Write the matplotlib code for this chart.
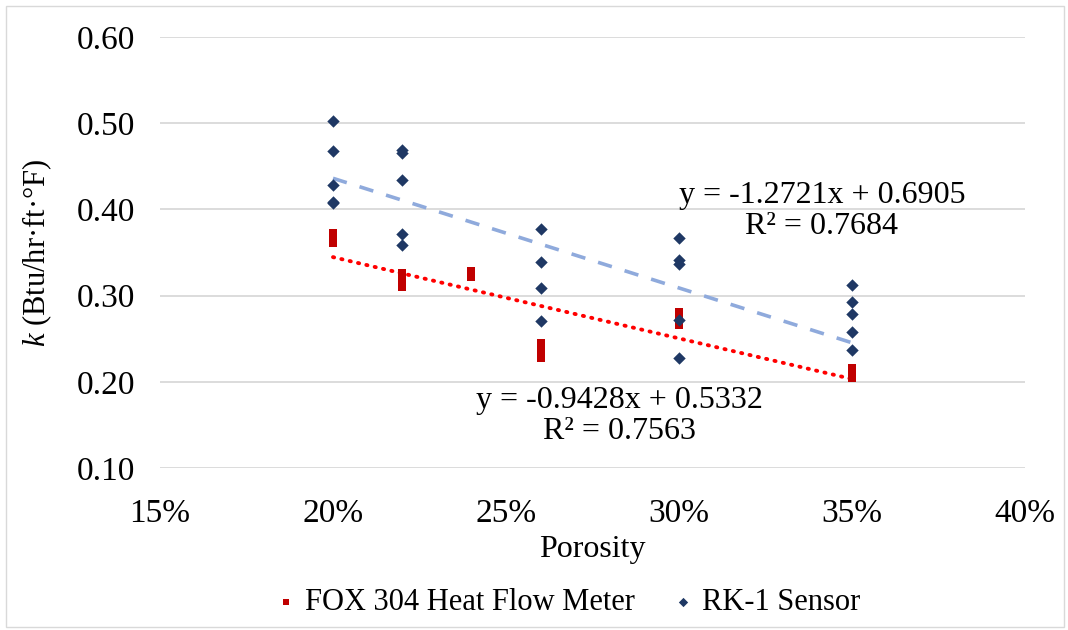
import matplotlib.pyplot as plt
from matplotlib.patches import Rectangle
from matplotlib.ticker import FuncFormatter
import numpy as np

# FOX 304 heat flow meter measurements
fox_porosity = [0.20, 0.20, 0.20, 0.22, 0.22, 0.22, 0.24, 0.24, 0.26, 0.26, 0.26, 0.30, 0.30, 0.30, 0.35, 0.35, 0.35]
fox_k = [0.373, 0.367, 0.361, 0.326, 0.318, 0.310, 0.328, 0.322, 0.245, 0.236, 0.228, 0.281, 0.274, 0.266, 0.216, 0.210, 0.204]

# RK-1 sensor measurements
rk_porosity = [0.20, 0.20, 0.20, 0.20, 0.20,
               0.22, 0.22, 0.22, 0.22, 0.22,
               0.26, 0.26, 0.26, 0.26,
               0.30, 0.30, 0.30, 0.30, 0.30,
               0.35, 0.35, 0.35, 0.35, 0.35]
rk_k = [0.502, 0.468, 0.428, 0.409, 0.407,
        0.469, 0.466, 0.434, 0.371, 0.359,
        0.377, 0.339, 0.309, 0.271,
        0.367, 0.341, 0.337, 0.272, 0.228,
        0.312, 0.292, 0.279, 0.258, 0.237]

# trendline coefficients as printed on the chart
fox_fit = (-0.9428, 0.5332, 0.7563)
rk_fit = (-1.2721, 0.6905, 0.7684)

plt.rcParams['font.family'] = ['Liberation Serif', 'DejaVu Serif']
plt.rcParams['mathtext.fontset'] = 'custom'
plt.rcParams['mathtext.it'] = 'Liberation Serif:italic'
plt.rcParams['mathtext.rm'] = 'Liberation Serif'

fig = plt.figure(figsize=(10.68, 6.30), dpi=100)
ax = fig.add_axes([160 / 1068, 1 - 468 / 630, 865 / 1068, 431 / 630])

fig.patches.append(Rectangle((0.006, 0.004), 0.99, 0.986, transform=fig.transFigure,
                             fill=False, edgecolor='#D9D9D9', linewidth=1))

ax.scatter(fox_porosity, fox_k, marker='s', s=30, color='#C00000', zorder=3,
           label='FOX 304 Heat Flow Meter', linewidths=0)
ax.scatter(rk_porosity, rk_k, marker='D', s=40, color='#1F3864', zorder=3,
           label='RK-1 Sensor', linewidths=0)

xs = np.array([min(fox_porosity), max(fox_porosity)])
ax.plot(xs, fox_fit[0] * xs + fox_fit[1], color='#FF0000', linestyle=(0, (0.3, 1.9)),
        linewidth=2.8, dash_capstyle='round', zorder=2)
xs = np.array([min(rk_porosity), max(rk_porosity)])
ax.plot(xs, rk_fit[0] * xs + rk_fit[1], color='#8FAADC', linestyle=(0, (4, 3.7)),
        linewidth=2.6, zorder=2)

ax.text(0.3413, 0.398, 'y = %.4fx + %.4f\nR² = %.4f' % rk_fit, ha='center', va='center',
        fontsize=23, linespacing=1.1)
ax.text(0.2827, 0.160, 'y = %.4fx + %.4f\nR² = %.4f' % fox_fit, ha='center', va='center',
        fontsize=23, linespacing=1.1)

ax.set_xlim(0.15, 0.40)
ax.set_ylim(0.10, 0.60)
ax.set_xticks([0.15, 0.20, 0.25, 0.30, 0.35, 0.40])
ax.set_yticks([0.10, 0.20, 0.30, 0.40, 0.50, 0.60])
ax.xaxis.set_major_formatter(FuncFormatter(lambda v, p: '%d%%' % round(v * 100)))
ax.yaxis.set_major_formatter(FuncFormatter(lambda v, p: '%.2f' % v))
ax.tick_params(length=0, labelsize=24)
ax.tick_params(axis='x', pad=22)
ax.tick_params(axis='y', pad=18)
ax.grid(axis='y', color='#D9D9D9', linewidth=1.3)
ax.set_axisbelow(True)
for s in ax.spines.values():
    s.set_visible(False)

ax.set_xlabel('Porosity', fontsize=23, labelpad=4)
ax.set_ylabel(r'$k$ (Btu/hr·ft·°F)', fontsize=22, labelpad=16)

fig.legend(loc='center', bbox_to_anchor=(0.528, 1 - 603 / 630), ncol=2, frameon=False,
           fontsize=22, handletextpad=0.0, columnspacing=1.0, markerscale=0.75,
           handlelength=1.2)

fig.savefig('out.png', dpi=100)
